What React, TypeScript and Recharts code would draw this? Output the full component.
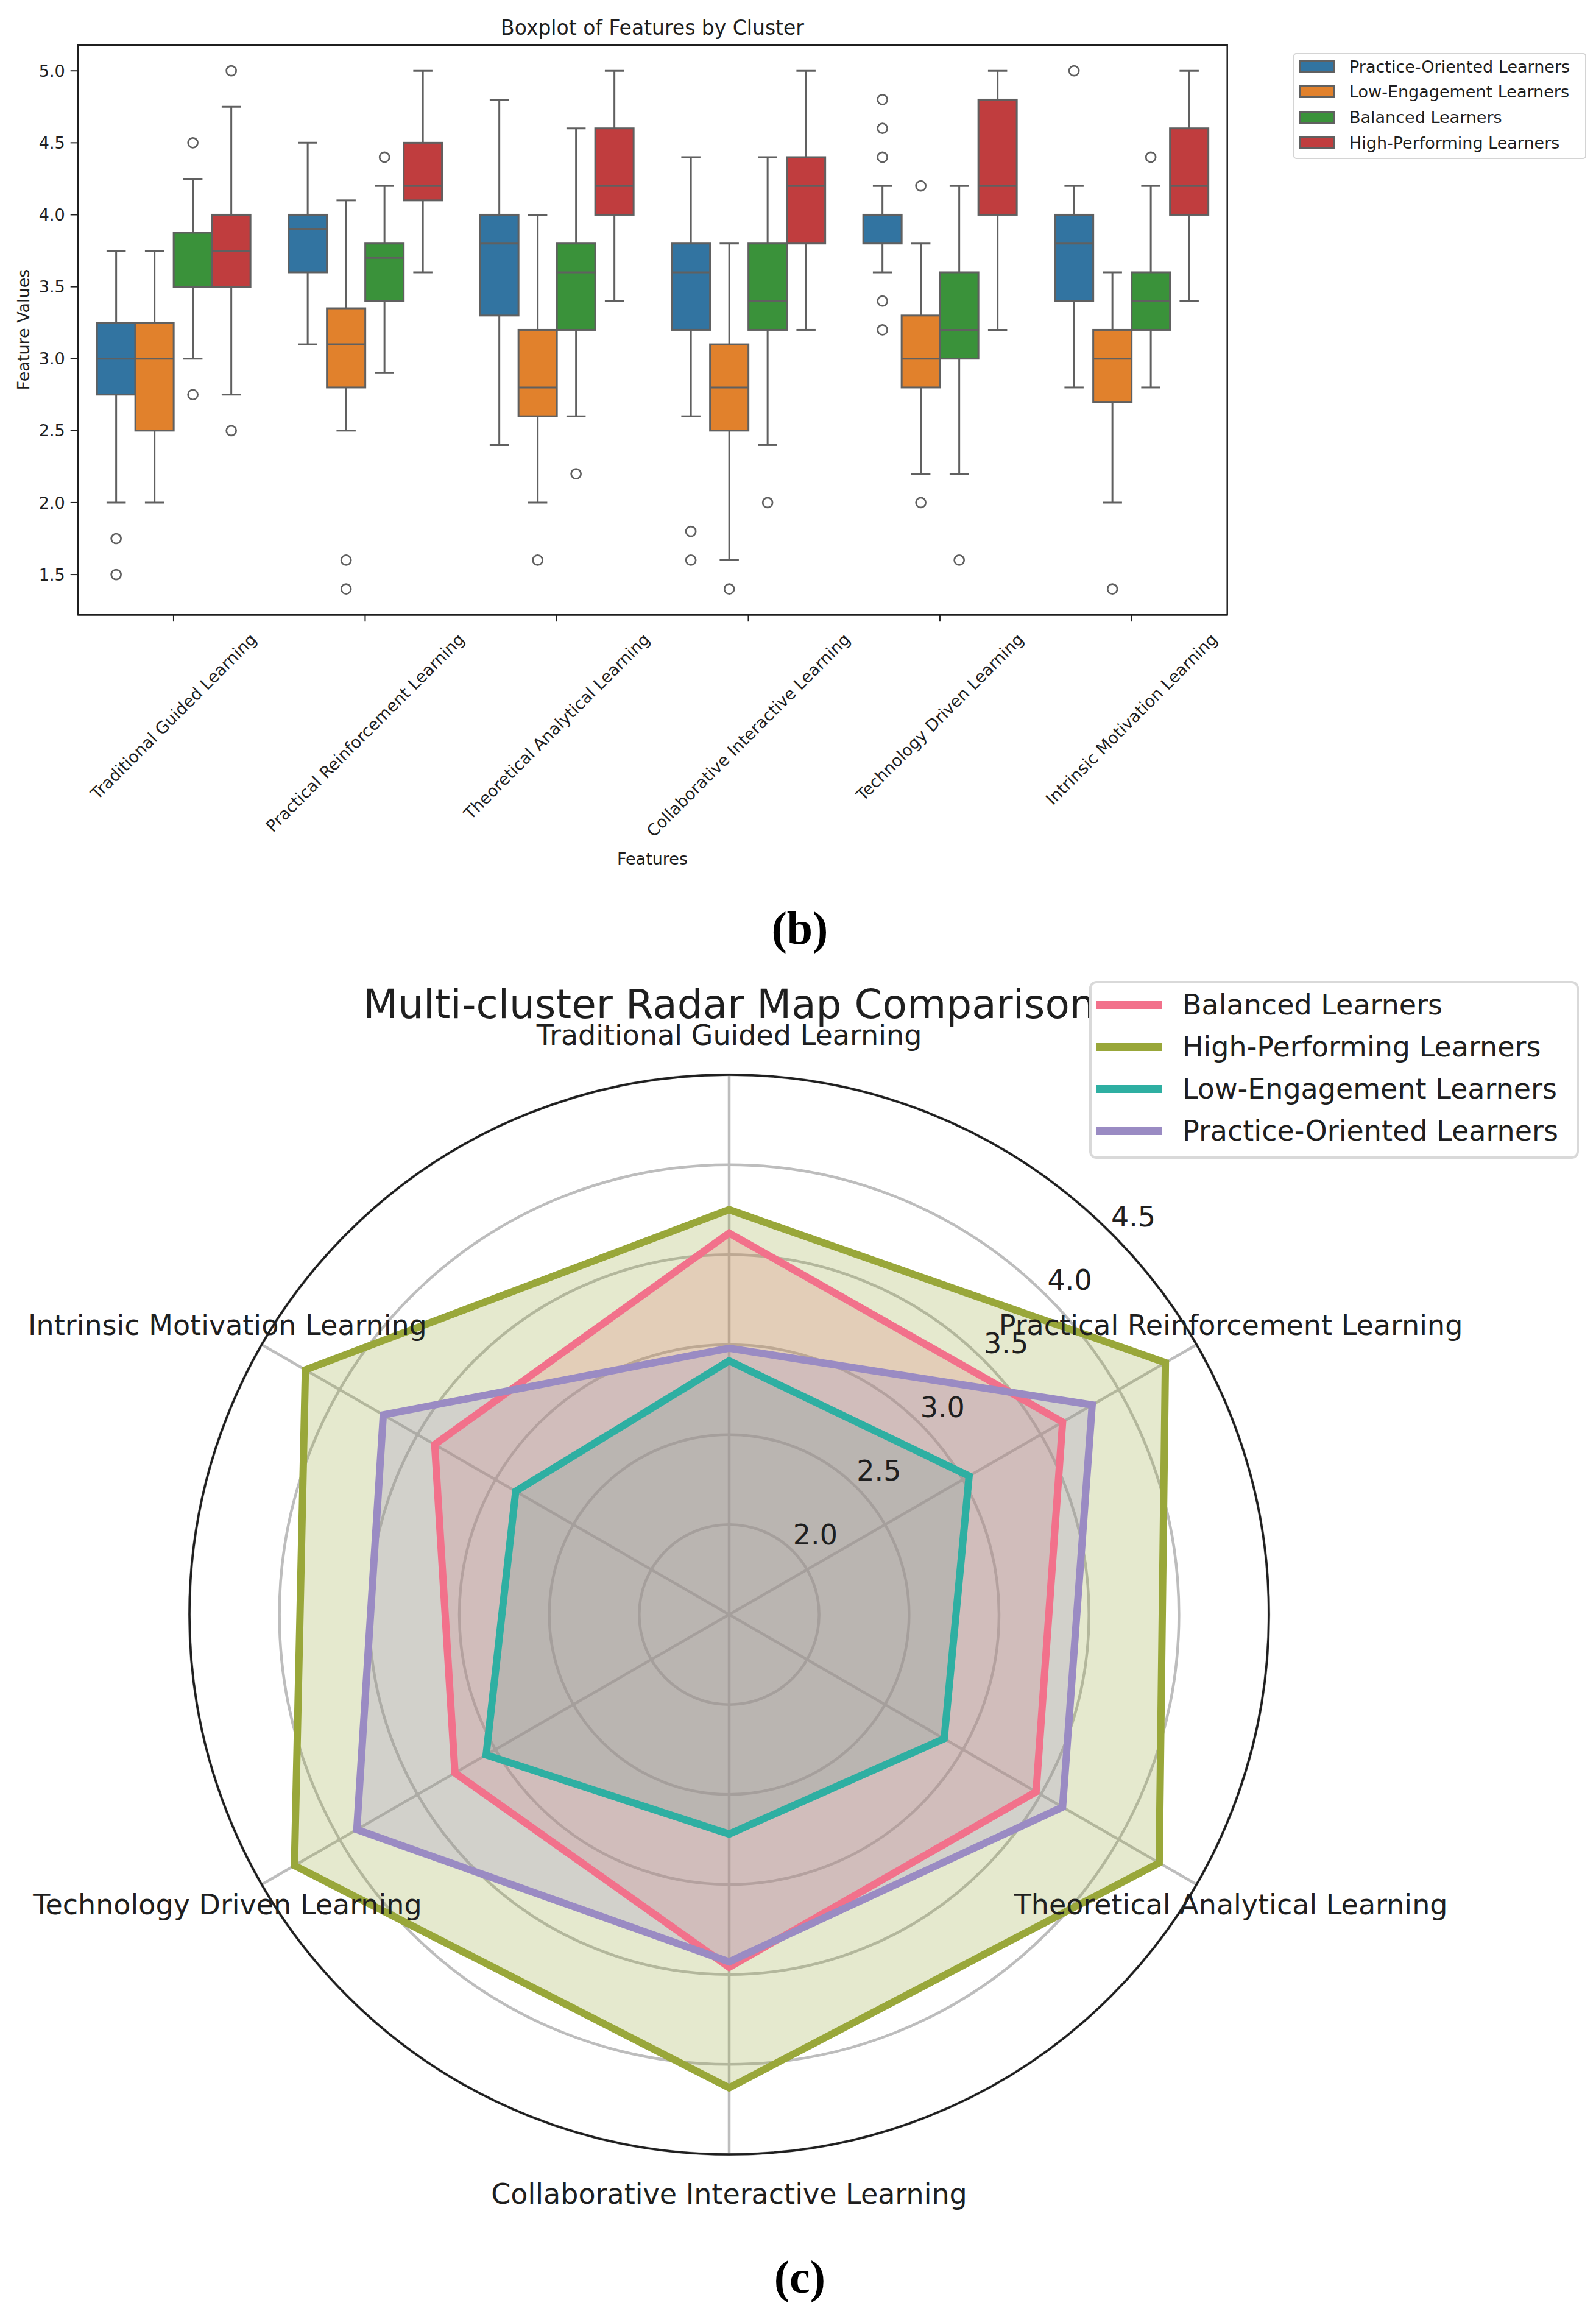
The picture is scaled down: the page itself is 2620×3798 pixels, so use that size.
import React from 'react';
import {
  BarChart, Bar, XAxis, YAxis, ReferenceArea,
  RadarChart, Radar, PolarGrid, PolarAngleAxis, PolarRadiusAxis,
} from 'recharts';

const FONT = '"DejaVu Sans", sans-serif';
const INK = '#1f1f1f';

const features = [
  'Traditional Guided Learning',
  'Practical Reinforcement Learning',
  'Theoretical Analytical Learning',
  'Collaborative Interactive Learning',
  'Technology Driven Learning',
  'Intrinsic Motivation Learning',
];

// boxplot (b)
const boxClusters = ['Practice-Oriented Learners', 'Low-Engagement Learners', 'Balanced Learners', 'High-Performing Learners'];
const boxColors = ['#3274a1', '#e1812c', '#3a923a', '#c03d3e'];

// [lower whisker, q1, median, q3, upper whisker] per feature
const practiceBox = [
  [2.0, 2.75, 3.0, 3.25, 3.75],
  [3.1, 3.6, 3.9, 4.0, 4.5],
  [2.4, 3.3, 3.8, 4.0, 4.8],
  [2.6, 3.2, 3.6, 3.8, 4.4],
  [3.6, 3.8, 4.0, 4.0, 4.2],
  [2.8, 3.4, 3.8, 4.0, 4.2],
];
const lowBox = [
  [2.0, 2.5, 3.0, 3.25, 3.75],
  [2.5, 2.8, 3.1, 3.35, 4.1],
  [2.0, 2.6, 2.8, 3.2, 4.0],
  [1.6, 2.5, 2.8, 3.1, 3.8],
  [2.2, 2.8, 3.0, 3.3, 3.8],
  [2.0, 2.7, 3.0, 3.2, 3.6],
];
const balancedBox = [
  [3.0, 3.5, 3.5, 3.875, 4.25],
  [2.9, 3.4, 3.7, 3.8, 4.2],
  [2.6, 3.2, 3.6, 3.8, 4.6],
  [2.4, 3.2, 3.4, 3.8, 4.4],
  [2.2, 3.0, 3.2, 3.6, 4.2],
  [2.8, 3.2, 3.4, 3.6, 4.2],
];
const highBox = [
  [2.75, 3.5, 3.75, 4.0, 4.75],
  [3.6, 4.1, 4.2, 4.5, 5.0],
  [3.4, 4.0, 4.2, 4.6, 5.0],
  [3.2, 3.8, 4.2, 4.4, 5.0],
  [3.2, 4.0, 4.2, 4.8, 5.0],
  [3.4, 4.0, 4.2, 4.6, 5.0],
];

const practiceFliers = [[1.75, 1.5], [], [], [1.8, 1.6], [4.8, 4.6, 4.4, 3.4, 3.2], [5.0]];
const lowFliers = [[], [1.6, 1.4], [1.6], [1.4], [4.2, 2.0], [1.4]];
const balancedFliers = [[4.5, 2.75], [4.4], [2.2], [2.0], [1.6], [4.4]];
const highFliers = [[5.0, 2.5], [], [], [], [], []];

const boxStats = [practiceBox, lowBox, balancedBox, highBox];
const boxFliers = [practiceFliers, lowFliers, balancedFliers, highFliers];
const yTicks = [1.5, 2.0, 2.5, 3.0, 3.5, 4.0, 4.5, 5.0];

// radar (c)
const radarClusters = ['Balanced Learners', 'High-Performing Learners', 'Low-Engagement Learners', 'Practice-Oriented Learners'];
const radarColors = ['#f2718b', '#99a73a', '#2eafa2', '#9a8bc3'];
const balancedMeans = [3.62, 3.64, 3.47, 3.46, 3.26, 3.39];
const highMeans = [3.75, 4.30, 4.26, 4.13, 4.29, 4.22];
const lowMeans = [2.91, 3.04, 2.88, 2.72, 3.06, 2.87];
const practiceMeans = [2.98, 3.83, 3.64, 3.43, 3.89, 3.72];
const radarDomain = [1.5, 4.5];
// drawing order of the translucent fills, and of the outlines on top
const fillOrder = [2, 0, 1, 3];
const lineOrder = [0, 1, 3, 2];

const boxData = features.map((f, i) => {
  const row: any = { feature: f, stats: boxStats.map(s => s[i]), fliers: boxFliers.map(s => s[i]) };
  boxStats.forEach((s, c) => { row['c' + c] = [s[i][0], s[i][4]]; });
  return row;
});

const radarMeans = [balancedMeans, highMeans, lowMeans, practiceMeans];
const radarData = features.map((f, i) => {
  const row: any = { feature: f };
  radarClusters.forEach((c, k) => { row[c] = radarMeans[k][i]; });
  return row;
});

let ctx: CanvasRenderingContext2D | null = null;
function textWidth(t: string, fs: number) {
  if (!ctx && typeof document !== 'undefined') ctx = document.createElement('canvas').getContext('2d');
  if (ctx) {
    ctx.font = `${fs}px "DejaVu Sans"`;
    return ctx.measureText(t).width;
  }
  return t.length * fs * 0.55;
}

const EDGE = '#606060';

function BoxShape(props: any) {
  const { x, y, width, height, payload, ci } = props;
  const [lo, q1, med, q3, hi] = payload.stats[ci];
  const top = Math.min(y, y + height);
  const h = Math.abs(height);
  const py = (v: number) => top + ((hi - v) / (hi - lo)) * h;
  const cx = x + width / 2;
  const cap = width / 4;
  return (
    <g>
      <line x1={cx} x2={cx} y1={py(hi)} y2={py(q3)} stroke={EDGE} strokeWidth={3} />
      <line x1={cx} x2={cx} y1={py(q1)} y2={py(lo)} stroke={EDGE} strokeWidth={3} />
      <line x1={cx - cap} x2={cx + cap} y1={py(hi)} y2={py(hi)} stroke={EDGE} strokeWidth={3} />
      <line x1={cx - cap} x2={cx + cap} y1={py(lo)} y2={py(lo)} stroke={EDGE} strokeWidth={3} />
      <rect x={x} y={py(q3)} width={width} height={py(q1) - py(q3)} fill={boxColors[ci]} stroke={EDGE} strokeWidth={3} />
      <line x1={x} x2={x + width} y1={py(med)} y2={py(med)} stroke={EDGE} strokeWidth={3} />
      {payload.fliers[ci].map((v: number, k: number) => (
        <circle key={k} cx={cx} cy={py(v)} r={8} fill="none" stroke={EDGE} strokeWidth={2.7} />
      ))}
    </g>
  );
}

function FeatureTick(props: any) {
  const { x, y, payload } = props;
  const fs = 27;
  const w = textWidth(payload.value, fs);
  const cy = y + (w + 0.85 * fs) * Math.SQRT1_2 / 2;
  return (
    <text x={x} y={cy} textAnchor="middle" dominantBaseline="central" fontSize={fs}
      fontFamily={FONT} fill={INK} transform={`rotate(-45, ${x}, ${cy})`}>
      {payload.value}
    </text>
  );
}

function RadiusTick(props: any) {
  const { x, y, payload } = props;
  const v = Number(payload.value);
  if (v <= radarDomain[0] + 1e-6) return <g />;
  return (
    <text x={x + 37} y={y - 27} textAnchor="middle" dominantBaseline="central" fontSize={46} fontFamily={FONT} fill={INK}>
      {v.toFixed(1)}
    </text>
  );
}

function AngleTick(props: any) {
  const { x, y, payload } = props;
  return (
    <text x={x} y={y} textAnchor="middle" dominantBaseline="central" fontSize={46} fontFamily={FONT} fill={INK}>
      {payload.value}
    </text>
  );
}

export default function App() {
  return (
    <div style={{ position: 'absolute', left: 0, top: 0, width: 2620, height: 3798, background: '#fff', fontFamily: FONT, overflow: 'hidden' }}>
      <div style={{ position: 'absolute', left: 0, top: 0 }}>
        <BarChart width={2620} height={1450} data={boxData} barGap={0} barCategoryGap="10%"
          margin={{ top: 73.7, left: 27.7, right: 605.3, bottom: 40.8 }}>
          <XAxis dataKey="feature" type="category" interval={0} height={400} tickSize={11} tickMargin={16}
            axisLine={{ stroke: INK, strokeWidth: 2.5 }} tickLine={{ stroke: INK, strokeWidth: 2 }} tick={<FeatureTick />} />
          <YAxis type="number" domain={[1.22, 5.18]} ticks={yTicks} width={100} tickSize={12} tickMargin={9}
            allowDataOverflow tickFormatter={(v: number) => v.toFixed(1)}
            axisLine={{ stroke: INK, strokeWidth: 2.5 }} tickLine={{ stroke: INK, strokeWidth: 2 }}
            tick={{ fontSize: 27, fill: INK, fontFamily: FONT }} />
          {boxClusters.map((c, i) => (
            <Bar key={c} dataKey={'c' + i} name={c} isAnimationActive={false}
              shape={(p: any) => <BoxShape {...p} ci={i} />} />
          ))}
          <ReferenceArea y1={1.22} y2={5.18} fill="none" stroke={INK} strokeWidth={2.5} ifOverflow="visible" />
        </BarChart>
      </div>

      <div style={{ position: 'absolute', left: 0, top: 1550 }}>
        <RadarChart width={2620} height={2248} data={radarData} cx={1197} cy={1100} outerRadius={886}
          margin={{ top: 0, right: 0, bottom: 0, left: 0 }}>
          {fillOrder.map(k => (
            <Radar key={'fill-' + k} dataKey={radarClusters[k]} stroke="none"
              fill={radarColors[k]} fillOpacity={0.25} dot={false} isAnimationActive={false} legendType="none" />
          ))}
          <PolarGrid gridType="circle" stroke="#bdbdbd" strokeWidth={4.5} />
          {lineOrder.map(k => (
            <Radar key={'line-' + k} dataKey={radarClusters[k]} name={radarClusters[k]} stroke={radarColors[k]}
              strokeWidth={12} fill="none" dot={false} isAnimationActive={false} />
          ))}
          <PolarRadiusAxis angle={45} type="number" domain={radarDomain} allowDataOverflow allowDecimals
            tickCount={7} axisLine={false} tickLine={false} tick={<RadiusTick />} />
          <PolarAngleAxis dataKey="feature" tickSize={65} tickLine={false} axisLineType="circle"
            axisLine={{ stroke: INK, strokeWidth: 3.5 }} tick={<AngleTick />} />
        </RadarChart>
      </div>

      <svg width={2620} height={3798} style={{ position: 'absolute', left: 0, top: 0, pointerEvents: 'none' }}>
        <text x={1071} y={45} textAnchor="middle" dominantBaseline="central" fontSize={33} fontFamily={FONT} fill={INK}>
          Boxplot of Features by Cluster
        </text>
        <text x={38} y={541} textAnchor="middle" dominantBaseline="central" fontSize={27} fontFamily={FONT} fill={INK}
          transform="rotate(-90, 38, 541)">
          Feature Values
        </text>
        <text x={1071} y={1409} textAnchor="middle" dominantBaseline="central" fontSize={27} fontFamily={FONT} fill={INK}>
          Features
        </text>
        <text x={1313} y={1523} textAnchor="middle" dominantBaseline="central" fontSize={76} fontWeight="bold"
          fontFamily='"Liberation Serif", serif' fill="#000">
          (b)
        </text>
        <text x={1197} y={1648} textAnchor="middle" dominantBaseline="central" fontSize={66} fontFamily={FONT} fill={INK}>
          Multi-cluster Radar Map Comparison
        </text>
        <text x={1313} y={3737} textAnchor="middle" dominantBaseline="central" fontSize={76} fontWeight="bold"
          fontFamily='"Liberation Serif", serif' fill="#000">
          (c)
        </text>
      </svg>

      <div style={{ position: 'absolute', left: 2123, top: 87, width: 481, height: 174, boxSizing: 'border-box',
        border: '2px solid #d4d4d4', borderRadius: 5, background: 'rgba(255,255,255,0.8)' }}>
        {boxClusters.map((c, i) => (
          <div key={c} style={{ position: 'absolute', left: 0, top: 22 - 2 + i * 41.7 - 20, height: 40, width: 470,
            display: 'flex', alignItems: 'center' }}>
            <div style={{ marginLeft: 8, width: 58, height: 21, boxSizing: 'border-box', background: boxColors[i],
              border: `3px solid ${EDGE}` }} />
            <div style={{ marginLeft: 24, fontSize: 27, lineHeight: 1, color: INK, whiteSpace: 'nowrap' }}>{c}</div>
          </div>
        ))}
      </div>

      <div style={{ position: 'absolute', left: 1788, top: 1610, width: 804, height: 292, boxSizing: 'border-box',
        border: '4px solid #d9d9d9', borderRadius: 12, background: 'rgba(255,255,255,0.8)' }}>
        {radarClusters.map((c, i) => (
          <div key={c} style={{ position: 'absolute', left: 0, top: 39.3 - 4 + i * 69 - 30, height: 60, width: 790,
            display: 'flex', alignItems: 'center' }}>
            <div style={{ marginLeft: 8, width: 107, height: 13, background: radarColors[i] }} />
            <div style={{ marginLeft: 34, fontSize: 46, lineHeight: 1, color: INK, whiteSpace: 'nowrap' }}>{c}</div>
          </div>
        ))}
      </div>
    </div>
  );
}
